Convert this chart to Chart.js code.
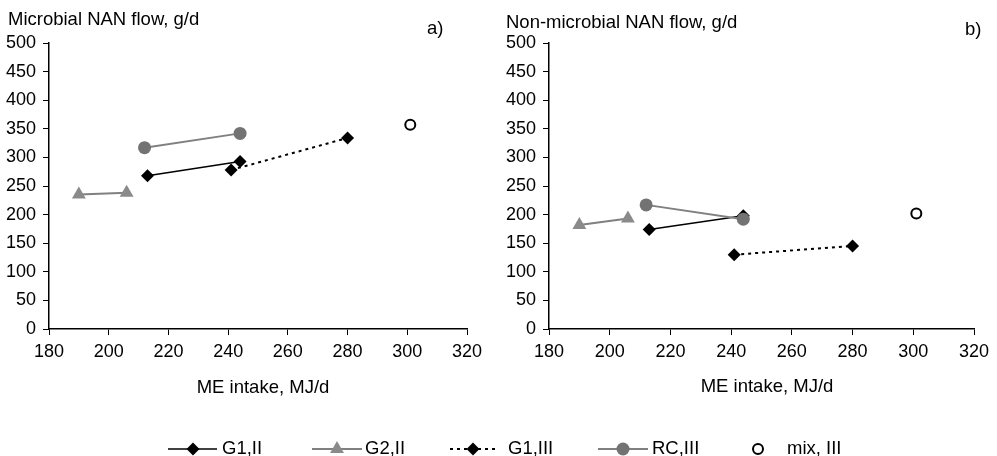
<!DOCTYPE html>
<html>
<head>
<meta charset="utf-8">
<script src="https://cdn.jsdelivr.net/npm/chart.js@4.4.1/dist/chart.umd.min.js"></script>
<style>
  html, body { margin: 0; padding: 0; background: #fff; }
  #wrap { position: relative; width: 997px; height: 456px; background: #fff; overflow: hidden; }
  .box { position: absolute; }
</style>
</head>
<body>
<div id="wrap">
  <div class="box" style="left:0;top:0;width:498px;height:420px;"><canvas id="chartA"></canvas></div>
  <div class="box" style="left:498px;top:0;width:499px;height:420px;"><canvas id="chartB"></canvas></div>
  <div class="box" style="left:0;top:420px;width:997px;height:36px;"><canvas id="legend"></canvas></div>
</div>
<script>
// ---------- data ----------
const seriesNames = ['G1,II', 'G2,II', 'G1,III', 'RC,III', 'mix, III'];

// ME intake, MJ/d (x values) per series
const meG1II  = [213, 244];
const meG2II  = [190, 206];
const meG1III = [241, 280];
const meRCIII = [212, 244];
const meMix   = [301];

// a) Microbial NAN flow, g/d
const microG1II  = [268, 293];
const microG2II  = [235, 238];
const microG1III = [278, 334];
const microRCIII = [317, 342];
const microMix   = [357];

// b) Non-microbial NAN flow, g/d
const nonMicroG1II  = [174, 198];
const nonMicroG2II  = [182, 193];
const nonMicroG1III = [130, 145];
const nonMicroRCIII = [217, 192];
const nonMicroMix   = [202];

const xMin = 180, xMax = 320, xStep = 20;
const yMin = 0, yMax = 500, yStep = 50;

const xAxisTitle = 'ME intake, MJ/d';

// ---------- styles ----------
const FONT = "'Liberation Sans', Arial, Helvetica, sans-serif";
const FS_TICK = 18;
const FS_TEXT = 18.5;

const styles = [
  { borderColor: '#000000', backgroundColor: '#000000', pointStyle: 'rectRot', pointRadius: 6.5, borderWidth: 1.5, borderDash: [], showLine: true, pointBorderWidth: 0, order: 4 },
  { borderColor: '#808080', backgroundColor: '#8a8a8a', pointStyle: 'triangle', pointRadius: 8, borderWidth: 2, borderDash: [], showLine: true, pointBorderWidth: 0, order: 3 },
  { borderColor: '#000000', backgroundColor: '#000000', pointStyle: 'rectRot', pointRadius: 6.5, borderWidth: 2, borderDash: [3, 4], showLine: true, pointBorderWidth: 0, order: 2 },
  { borderColor: '#808080', backgroundColor: '#737373', pointStyle: 'circle', pointRadius: 6.5, borderWidth: 2, borderDash: [], showLine: true, pointBorderWidth: 0, order: 1 },
  { borderColor: '#000000', backgroundColor: '#ffffff', pointStyle: 'circle', pointRadius: 5, borderWidth: 0, borderDash: [], showLine: false, pointBorderWidth: 2, order: 0 }
];

function zip(xs, ys) { return xs.map((x, i) => ({ x: x, y: ys[i] })); }

function makeDatasets(ySets) {
  const xSets = [meG1II, meG2II, meG1III, meRCIII, meMix];
  return seriesNames.map((name, i) => {
    const s = styles[i];
    return {
      label: name,
      data: zip(xSets[i], ySets[i]),
      showLine: s.showLine,
      borderColor: s.borderColor,
      backgroundColor: s.backgroundColor,
      borderWidth: s.borderWidth,
      borderDash: s.borderDash,
      pointStyle: s.pointStyle,
      pointRadius: s.pointRadius,
      pointHoverRadius: s.pointRadius,
      pointBackgroundColor: s.backgroundColor,
      pointBorderColor: i === 4 ? '#000000' : s.backgroundColor,
      pointBorderWidth: s.pointBorderWidth,
      order: s.order,
      tension: 0
    };
  });
}

const panelText = {
  id: 'panelText',
  afterDraw(chart, args, opts) {
    const ctx = chart.ctx;
    ctx.save();
    ctx.font = FS_TEXT + 'px ' + FONT;
    ctx.fillStyle = '#000';
    ctx.textBaseline = 'middle';
    ctx.textAlign = 'left';
    ctx.fillText(opts.title, opts.titleX, opts.titleY);
    ctx.fillText(opts.tag, opts.tagX, opts.tagY);
    ctx.textAlign = 'center';
    ctx.fillText(xAxisTitle, opts.xTitleX, opts.xTitleY);
    ctx.restore();
  }
};

function makeChart(id, ySets, axisWidth, padRight, txt) {
  return new Chart(document.getElementById(id), {
    type: 'scatter',
    data: { datasets: makeDatasets(ySets) },
    options: {
      responsive: true,
      maintainAspectRatio: false,
      animation: false,
      events: [],
      layout: { padding: { top: 43, right: padRight, bottom: 0, left: 0 } },
      scales: {
        x: {
          type: 'linear',
          min: xMin, max: xMax,
          ticks: { stepSize: xStep, color: '#000', font: { family: FONT, size: FS_TICK }, padding: 6, maxRotation: 0 },
          grid: { display: true, drawOnChartArea: false, drawTicks: true, tickLength: 6, color: '#000', lineWidth: 1 },
          border: { display: true, color: '#000', width: 1.5 },
          title: { display: false },
          afterFit(scale) { scale.height = 91; }
        },
        y: {
          type: 'linear',
          min: yMin, max: yMax,
          ticks: { stepSize: yStep, color: '#000', font: { family: FONT, size: FS_TICK }, padding: 7 },
          grid: { display: true, drawOnChartArea: false, drawTicks: true, tickLength: 6, color: '#000', lineWidth: 1 },
          border: { display: true, color: '#000', width: 1.5 },
          afterFit(scale) { scale.width = axisWidth; }
        }
      },
      plugins: {
        legend: { display: false },
        tooltip: { enabled: false },
        title: { display: false },
        panelText: txt
      }
    },
    plugins: [panelText]
  });
}

makeChart('chartA', [microG1II, microG2II, microG1III, microRCIII, microMix], 49, 31,
  { title: 'Microbial NAN flow, g/d', titleX: 8, titleY: 20, tag: 'a)', tagX: 427, tagY: 29, xTitleX: 263, xTitleY: 388 });
makeChart('chartB', [nonMicroG1II, nonMicroG2II, nonMicroG1III, nonMicroRCIII, nonMicroMix], 51, 23,
  { title: 'Non-microbial NAN flow, g/d', titleX: 8, titleY: 23, tag: 'b)', tagX: 467, tagY: 30, xTitleX: 269, xTitleY: 387 });

// ---------- shared legend ----------
const legendLayout = {
  lineStart: [168, 312, 450, 598, null],
  lineEnd:   [217, 362, 498, 648, null],
  marker:    [193, 337, 473, 623, 758],
  text:      [222, 365, 508, 652, 787],
  y: 29
};

function drawMarker(ctx, ds, x, y) {
  const opts = { pointStyle: ds.pointStyle, radius: ds.pointRadius, rotation: 0, borderWidth: ds.pointBorderWidth };
  ctx.fillStyle = ds.pointBackgroundColor;
  ctx.strokeStyle = ds.pointBorderColor;
  ctx.lineWidth = ds.pointBorderWidth;
  ctx.setLineDash([]);
  Chart.helpers.drawPoint(ctx, opts, x, y);
}

const sharedLegend = {
  id: 'sharedLegend',
  afterDraw(chart) {
    const ctx = chart.ctx;
    const L = legendLayout;
    ctx.save();
    chart.data.datasets.forEach((ds, i) => {
      if (L.lineStart[i] !== null && ds.showLine) {
        ctx.beginPath();
        ctx.strokeStyle = ds.borderColor;
        ctx.lineWidth = ds.borderWidth;
        ctx.setLineDash(ds.borderDash || []);
        ctx.moveTo(L.lineStart[i], L.y);
        ctx.lineTo(L.lineEnd[i], L.y);
        ctx.stroke();
      }
      drawMarker(ctx, ds, L.marker[i], L.y);
      ctx.font = FS_TEXT + 'px ' + FONT;
      ctx.fillStyle = '#000';
      ctx.textBaseline = 'middle';
      ctx.textAlign = 'left';
      ctx.fillText(ds.label, L.text[i], L.y);
    });
    ctx.restore();
  }
};

new Chart(document.getElementById('legend'), {
  type: 'scatter',
  data: { datasets: makeDatasets([[], [], [], [], []]).map(d => Object.assign(d, { data: [] })) },
  options: {
    responsive: true,
    maintainAspectRatio: false,
    animation: false,
    events: [],
    scales: { x: { display: false }, y: { display: false } },
    plugins: { legend: { display: false }, tooltip: { enabled: false }, title: { display: false } }
  },
  plugins: [sharedLegend]
});
</script>
</body>
</html>
